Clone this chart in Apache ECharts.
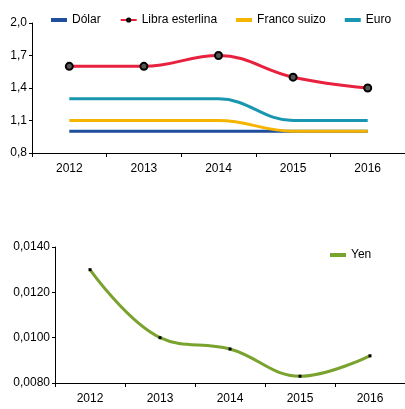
<!DOCTYPE html>
<html>
<head>
<meta charset="utf-8">
<script src="https://cdn.jsdelivr.net/npm/echarts@6/dist/echarts.min.js"></script>
<style>
html, body { margin: 0; padding: 0; background: #fff; }
#main { width: 405px; height: 409px; }
</style>
</head>
<body>
<div id="main"></div>
<script>
// datos
var years = ['2012', '2013', '2014', '2015', '2016'];
var dolar = [1.0, 1.0, 1.0, 1.0, 1.0];
var libra = [1.6, 1.6, 1.7, 1.5, 1.4];
var franco = [1.1, 1.1, 1.1, 1.0, 1.0];
var euro = [1.3, 1.3, 1.3, 1.1, 1.1];
var yen = [0.0130, 0.0100, 0.0095, 0.0083, 0.0092];
var topTicks = [0.8, 1.1, 1.4, 1.7, 2.0];

var font = 'Liberation Sans';
var myChart = echarts.init(document.getElementById('main'));

var axisLine = { show: true, lineStyle: { color: '#000', width: 1 } };
var xAxisBase = {
    type: 'category',
    data: years,
    boundaryGap: true,
    axisLine: axisLine,
    axisTick: { show: true, length: 4, lineStyle: { color: '#000' } },
    axisLabel: { color: '#000', fontFamily: font, fontSize: 12, margin: 10 },
    splitLine: { show: false }
};

function lineSeries(name, data, color, xi, extra) {
    var s = {
        name: name,
        type: 'line',
        xAxisIndex: xi,
        yAxisIndex: xi,
        data: data,
        smooth: 0.4,
        showSymbol: false,
        symbol: 'none',
        lineStyle: { color: color, width: 3 },
        itemStyle: { color: color },
        emphasis: { disabled: true }
    };
    return Object.assign(s, extra || {});
}

var legendText = { fontSize: 12, color: '#000', fontFamily: font };

var option = {
    animation: false,
    textStyle: { fontFamily: font },
    legend: [{
        top: 9,
        left: 46,
        width: 370,
        itemGap: 19,
        itemWidth: 16,
        itemHeight: 4,
        textStyle: legendText,
        data: [
            { name: 'Dólar', icon: 'rect' },
            { name: 'Libra esterlina' },
            { name: 'Franco suizo', icon: 'rect' },
            { name: 'Euro', icon: 'rect' }
        ]
    }, {
        top: 244,
        left: 325,
        itemWidth: 16,
        itemHeight: 4,
        textStyle: legendText,
        data: [{ name: 'Yen', icon: 'rect', itemStyle: { color: '#7aa22e' } }]
    }],
    grid: [
        { left: 32, width: 375, top: 23, height: 130 },
        { left: 55, width: 350, top: 247, height: 136 }
    ],
    xAxis: [
        Object.assign({ gridIndex: 0 }, xAxisBase),
        Object.assign({ gridIndex: 1 }, xAxisBase)
    ],
    yAxis: [{
        gridIndex: 0,
        type: 'value',
        min: 0.8,
        max: 2.0,
        axisLine: axisLine,
        axisTick: { show: true, length: 3, customValues: topTicks, lineStyle: { color: '#000' } },
        axisLabel: {
            color: '#000', fontFamily: font, fontSize: 12, margin: 5,
            customValues: topTicks,
            formatter: function(v) { return v.toFixed(1).replace('.', ','); }
        },
        splitLine: { show: false }
    }, {
        gridIndex: 1,
        type: 'value',
        min: 0.008,
        max: 0.014,
        interval: 0.002,
        axisLine: axisLine,
        axisTick: { show: true, length: 3, lineStyle: { color: '#000' } },
        axisLabel: {
            color: '#000', fontFamily: font, fontSize: 12, margin: 5,
            formatter: function(v) { return v.toFixed(4).replace('.', ','); }
        },
        splitLine: { show: false }
    }],
    series: [
        lineSeries('Dólar', dolar, '#1f4e9c', 0),
        lineSeries('Franco suizo', franco, '#f5b400', 0),
        lineSeries('Euro', euro, '#1a97b0', 0),
        lineSeries('Libra esterlina', libra, '#e8213f', 0, {
            symbol: 'circle',
            showSymbol: true,
            symbolSize: 7,
            itemStyle: { color: '#555', borderColor: '#000', borderWidth: 2 }
        }),
        lineSeries('Yen', yen, '#7aa22e', 1, {
            symbol: 'rect',
            showSymbol: true,
            symbolSize: 3,
            itemStyle: { color: '#000' }
        })
    ]
};

myChart.setOption(option);
</script>
</body>
</html>
